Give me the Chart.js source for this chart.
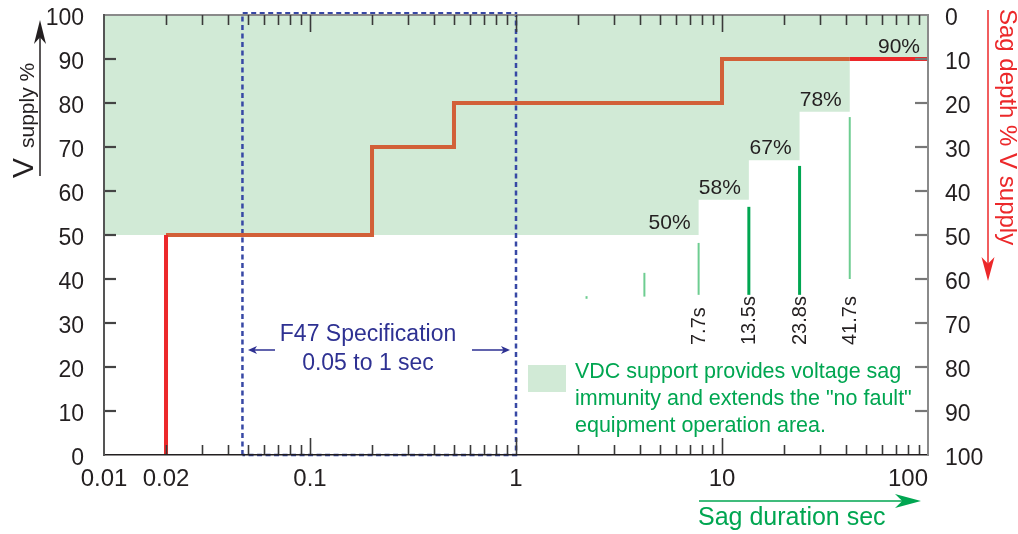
<!DOCTYPE html>
<html>
<head>
<meta charset="utf-8">
<title>VDC sag immunity vs F47</title>
<script src="https://cdn.jsdelivr.net/npm/chart.js@4.4.0/dist/chart.umd.min.js"></script>
<style>
  html, body { margin: 0; padding: 0; background: #fff; }
  #wrap { width: 1018px; height: 534px; }
</style>
</head>
<body>
<div id="wrap"><canvas id="sagChart" width="1018" height="534"></canvas></div>
<script>
/**
 * Sag duration vs supply voltage chart
 * F47 curve, VDC support area and duration markers
 */

// x axis (sag duration, sec, log)
const xTickValues = [0.01, 0.02, 0.1, 1, 10, 100];
const xTickLabels = ['0.01', '0.02', '0.1', '1', '10', '100'];

// VDC "no fault" area, lower edge (held until next duration)
const vdcDurations = [0.01, 7.7, 13.5, 23.8, 41.7, 100];
const vdcLevels = [50, 58, 67, 78, 90, 90];
const vdcLabels = ['50%', '58%', '67%', '78%', '90%'];

// F47 step curve (orange)
const f47Durations = [0.02, 0.2, 0.2, 0.5, 0.5, 10, 10, 41.7];
const f47Levels = [50, 50, 70, 70, 80, 80, 90, 90];

// red curve pieces
const redStartDurations = [0.02, 0.02];
const redStartLevels = [0, 50];
const redEndDurations = [41.7, 100];
const redEndLevels = [90, 90];

// F47 specification box (0.05 to 1 sec)
const boxDurations = [0.047, 0.047, 1, 1, 0.047];
const boxLevels = [0, 100.4, 100.4, 0, 0];

// green duration markers
const markDurations = [2.2, 4.2, 7.7, 13.5, 23.8, 41.7];
const markLow = [35.5, 36, 36.4, 36.4, 36.4, 40];
const markHigh = [36.1, 41.4, 48.2, 56.4, 65.7, 76.8];
const markDark = [false, false, false, true, true, false];
const markLabels = ['', '', '7.7s', '13.5s', '23.8s', '41.7s'];

const FONT = '"Liberation Sans", Arial, Helvetica, sans-serif';
const TEXT = '#231f20';
const GREEN_FILL = 'rgb(209, 234, 214)';
const DARK_GREEN = 'rgb(0, 166, 81)';
const LIGHT_GREEN = 'rgb(110, 205, 145)';
const ORANGE = 'rgb(210, 96, 56)';
const RED = 'rgb(236, 40, 42)';
const BLUE_BOX = 'rgb(55, 72, 165)';
const BLUE_TEXT = 'rgb(46, 49, 146)';

Chart.defaults.font.family = FONT;

function toPoints(xs, ys) {
  return xs.map((x, i) => ({ x: x, y: ys[i] }));
}

function lineSet(data, color, width, order, extra) {
  return Object.assign({
    data: data,
    showLine: true,
    borderColor: color,
    borderWidth: width,
    pointRadius: 0,
    fill: false,
    borderCapStyle: 'butt',
    borderJoinStyle: 'miter',
    order: order
  }, extra || {});
}

/**
 * Filled arrow head, tip at (tx, ty) pointing along (dx, dy)
 */
function arrowHead(ctx, tx, ty, dx, dy, len, half) {
  const bx = tx - dx * len, by = ty - dy * len;
  const nx = -dy, ny = dx;
  ctx.beginPath();
  ctx.moveTo(tx, ty);
  ctx.lineTo(bx + nx * half, by + ny * half);
  ctx.lineTo(tx - dx * len * 0.72, ty - dy * len * 0.72);
  ctx.lineTo(bx - nx * half, by - ny * half);
  ctx.closePath();
  ctx.fill();
}

// keep the plot box fixed: no extra label padding from the scales
function fixScale(size, key) {
  return (scale) => {
    scale[key] = size;
    scale.paddingTop = 0;
    scale.paddingBottom = 0;
    scale.paddingLeft = 0;
    scale.paddingRight = 0;
  };
}

// inward tick marks + top border
const inwardTicks = {
  id: 'inwardTicks',
  afterDatasetsDraw(chart) {
    const { ctx, chartArea: a, scales } = chart;
    const x = scales.x, y = scales.y;
    ctx.save();

    ctx.strokeStyle = '#8a8a8a';
    ctx.lineWidth = 2;
    ctx.beginPath();
    ctx.moveTo(a.left, a.top);
    ctx.lineTo(a.right, a.top);
    ctx.stroke();

    ctx.strokeStyle = '#3a3a3a';
    ctx.lineWidth = 1.6;
    for (let d = -2; d < 2; d++) {
      for (let m = 1; m <= 9; m++) {
        const v = m * Math.pow(10, d);
        if (d === -2 && m === 1) continue;
        const px = Math.round(x.getPixelForValue(v)) + 0.5;
        const len = m === 1 ? 17 : 10;
        ctx.beginPath();
        ctx.moveTo(px, a.bottom);
        ctx.lineTo(px, a.bottom - len);
        ctx.moveTo(px, a.top);
        ctx.lineTo(px, a.top + len);
        ctx.stroke();
      }
    }

    ctx.lineWidth = 2.2;
    for (let v = 10; v < 100; v += 10) {
      const py = Math.round(y.getPixelForValue(v));
      ctx.strokeStyle = '#444';
      ctx.beginPath();
      ctx.moveTo(a.left, py);
      ctx.lineTo(a.left + 12, py);
      ctx.stroke();
      ctx.strokeStyle = '#777';
      ctx.beginPath();
      ctx.moveTo(a.right, py);
      ctx.lineTo(a.right - 13, py);
      ctx.stroke();
    }
    ctx.restore();
  }
};

// labels, legend, axis titles and arrows
const annotations = {
  id: 'annotations',
  afterDraw(chart) {
    const { ctx, scales } = chart;
    const x = scales.x, y = scales.y;
    ctx.save();

    // step percentages
    ctx.fillStyle = TEXT;
    ctx.font = '21px ' + FONT;
    ctx.textAlign = 'right';
    ctx.textBaseline = 'alphabetic';
    vdcLabels.forEach((label, i) => {
      ctx.fillText(label, x.getPixelForValue(vdcDurations[i + 1]) - 8, y.getPixelForValue(vdcLevels[i]) - 6);
    });

    // rotated duration labels
    ctx.font = '20px ' + FONT;
    ctx.textAlign = 'left';
    ctx.textBaseline = 'middle';
    markLabels.forEach((label, i) => {
      if (!label) return;
      ctx.save();
      ctx.translate(x.getPixelForValue(markDurations[i]), 345);
      ctx.rotate(-Math.PI / 2);
      ctx.fillText(label, 0, 1);
      ctx.restore();
    });

    // F47 text + arrows
    ctx.fillStyle = BLUE_TEXT;
    ctx.strokeStyle = BLUE_TEXT;
    ctx.font = '23px ' + FONT;
    ctx.textAlign = 'center';
    ctx.textBaseline = 'alphabetic';
    ctx.fillText('F47 Specification', 368, 341);
    ctx.fillText('0.05 to 1 sec', 368, 370);
    ctx.lineWidth = 1.5;
    ctx.beginPath();
    ctx.moveTo(275, 350); ctx.lineTo(254, 350);
    ctx.moveTo(472, 350); ctx.lineTo(504, 350);
    ctx.stroke();
    arrowHead(ctx, 248, 350, -1, 0, 9, 4);
    arrowHead(ctx, 510, 350, 1, 0, 9, 4);

    // legend
    ctx.fillStyle = GREEN_FILL;
    ctx.fillRect(528, 365, 38, 27);
    ctx.fillStyle = DARK_GREEN;
    ctx.font = '21.5px ' + FONT;
    ctx.textAlign = 'left';
    ctx.fillText('VDC support provides voltage sag', 575, 378);
    ctx.fillText('immunity and extends the "no fault"', 575, 405);
    ctx.fillText('equipment operation area.', 575, 432);

    // bottom title
    ctx.strokeStyle = DARK_GREEN;
    ctx.lineWidth = 1.5;
    ctx.beginPath();
    ctx.moveTo(699, 501); ctx.lineTo(905, 501);
    ctx.stroke();
    arrowHead(ctx, 921, 501, 1, 0, 26, 7);
    ctx.font = '25px ' + FONT;
    ctx.fillText('Sag duration sec', 698, 525);

    // left title
    ctx.fillStyle = TEXT;
    ctx.strokeStyle = TEXT;
    ctx.save();
    ctx.translate(33, 178);
    ctx.rotate(-Math.PI / 2);
    ctx.font = '30px ' + FONT;
    ctx.fillText('V', 0, 0);
    ctx.font = '21px ' + FONT;
    ctx.fillText('supply %', 30, 1);
    ctx.restore();
    ctx.lineWidth = 1.5;
    ctx.beginPath();
    ctx.moveTo(40, 176); ctx.lineTo(40, 36);
    ctx.stroke();
    arrowHead(ctx, 40, 20, 0, -1, 24, 6);

    // right title
    ctx.fillStyle = RED;
    ctx.strokeStyle = RED;
    ctx.save();
    ctx.translate(1000, 9);
    ctx.rotate(Math.PI / 2);
    ctx.font = '24px ' + FONT;
    ctx.fillText('Sag depth % V supply', 0, 0);
    ctx.restore();
    ctx.beginPath();
    ctx.moveTo(988, 10); ctx.lineTo(988, 265);
    ctx.stroke();
    arrowHead(ctx, 988, 281, 0, 1, 24, 6.5);

    ctx.restore();
  }
};

const datasets = [
  lineSet(toPoints(redStartDurations, redStartLevels), RED, 4, 1),
  lineSet(toPoints(redEndDurations, redEndLevels), RED, 4, 1),
  lineSet(toPoints(f47Durations, f47Levels), ORANGE, 4, 2),
  lineSet(toPoints(boxDurations, boxLevels), BLUE_BOX, 2.5, 5, { borderDash: [5, 3.5], clip: false }),
  lineSet(toPoints(vdcDurations, vdcLevels), 'rgba(0,0,0,0)', 0, 10, {
    stepped: 'before',
    fill: 'end',
    backgroundColor: GREEN_FILL
  })
];
markDurations.forEach((d, i) => {
  datasets.push(lineSet(
    toPoints([d, d], [markLow[i], markHigh[i]]),
    markDark[i] ? DARK_GREEN : LIGHT_GREEN,
    markDark[i] ? 3 : 2,
    4
  ));
});

new Chart(document.getElementById('sagChart'), {
  type: 'scatter',
  data: { datasets: datasets },
  options: {
    responsive: false,
    animation: false,
    events: [],
    layout: { padding: { top: 15, right: 0, bottom: 0, left: 0 } },
    plugins: {
      legend: { display: false },
      tooltip: { enabled: false }
    },
    scales: {
      x: {
        type: 'logarithmic',
        position: 'bottom',
        min: 0.01,
        max: 100,
        grid: { display: false },
        border: { display: true, color: TEXT, width: 1.5, z: 1 },
        afterBuildTicks: (scale) => {
          scale.ticks = xTickValues.map(v => ({ value: v }));
        },
        afterFit: fixScale(79, 'height'),
        ticks: {
          autoSkip: false,
          maxRotation: 0,
          minRotation: 0,
          padding: 2,
          color: TEXT,
          font: { size: 24 },
          // last label sits left of the axis end
          callback: (value, index) => index === xTickLabels.length - 1
            ? xTickLabels[index] + '      '
            : xTickLabels[index]
        }
      },
      y: {
        type: 'linear',
        position: 'left',
        min: 0,
        max: 100,
        grid: { display: false },
        border: { display: true, color: '#555', width: 2, z: 1 },
        afterFit: fixScale(104, 'width'),
        ticks: { stepSize: 10, padding: 12, labelOffset: 4, color: TEXT, font: { size: 23 } }
      },
      y2: {
        type: 'linear',
        position: 'right',
        reverse: true,
        min: 0,
        max: 100,
        grid: { display: false },
        border: { display: true, color: '#8a8a8a', width: 2, z: 1 },
        afterFit: fixScale(90, 'width'),
        ticks: { stepSize: 10, padding: 9, labelOffset: 4, color: TEXT, font: { size: 23 } }
      }
    }
  },
  plugins: [inwardTicks, annotations]
});
</script>
</body>
</html>
